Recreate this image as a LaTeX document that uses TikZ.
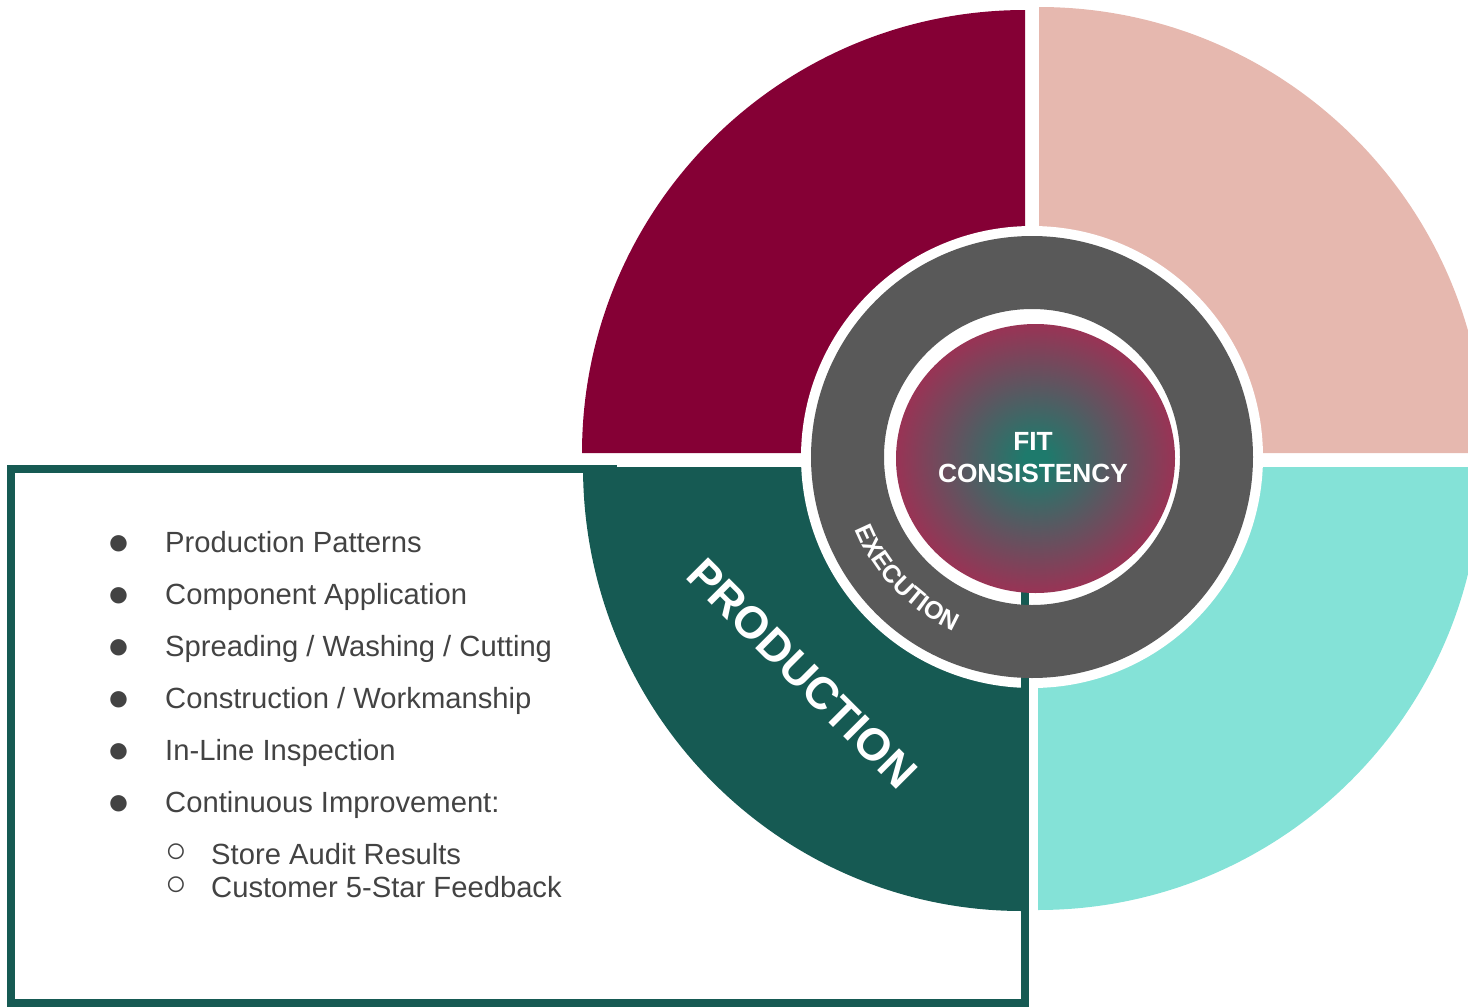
\documentclass[tikz,border=0pt]{standalone}
\usepackage{fontspec}
\usetikzlibrary{decorations.text}
\newfontfamily\arial{Liberation Sans}
\definecolor{maroonq}{HTML}{850035}
\definecolor{pinkq}{HTML}{E6B8AF}
\definecolor{turq}{HTML}{84E2D7}
\definecolor{tealq}{HTML}{165A53}
\definecolor{ringgray}{HTML}{595959}
\definecolor{txtgray}{HTML}{434343}
\definecolor{fitcenter}{HTML}{1E7A6C}
\definecolor{fitedge}{HTML}{A92A52}
\pgfdeclareradialshading{fitshade}{\pgfpoint{0bp}{0bp}}{color(0bp)=(fitcenter); color(2bp)=(fitcenter); color(28bp)=(fitedge); color(50bp)=(fitedge)}
\begin{document}
\begin{tikzpicture}[x=1pt,y=-1pt,
  bullettext/.style={anchor=base west, inner sep=0, text=txtgray, font=\arial\fontsize{29.2}{34}\selectfont},
  bulletmark/.style={anchor=center, inner sep=0, text=txtgray, font=\arial\fontsize{38}{42}\selectfont},
  subbulletmark/.style={anchor=center, inner sep=0, text=txtgray, font=\arial\fontsize{36}{40}\selectfont},
  fittext/.style={anchor=base, inner sep=0, text=white, font=\arial\bfseries\fontsize{26.3}{32}\selectfont},
  boxline/.style={draw=tealq, line width=8pt}]
\useasboundingbox (0,0) rectangle (1468,1007);
\clip (0,0) rectangle (1468,1007);
\coordinate (ctr) at (1032,457);
% quadrants
\fill[maroonq] (1025,453) -- ++(180:443) arc[start angle=180, end angle=270, radius=443] -- cycle;
\fill[pinkq] (1039,453) -- ++(270:446) arc[start angle=270, end angle=360, radius=446] -- cycle;
\fill[tealq] (1022,467) -- ++(90:444) arc[start angle=90, end angle=180, x radius=439, y radius=444] -- cycle;
\fill[turq] (1038,467) -- ++(0:443) arc[start angle=0, end angle=90, radius=443] -- cycle;
% white separation disk
\fill[white] (ctr) circle[radius=231];
% text box
\coordinate (bA) at (617,469);
\coordinate (bB) at (11,469);
\coordinate (bC) at (11,1003);
\coordinate (bD) at (1025,1003);
\coordinate (bE) at (1025,465);
\draw[boxline] (bA) -- (bB) -- (bC) -- (bD) -- (bE);
% gray ring
\fill[ringgray, even odd rule] (ctr) circle[radius=221] (ctr) circle[radius=148];
% centre disk
\shade[shading=fitshade] (1035.5,458.5) ellipse[x radius=139.5, y radius=134.5];
\node[fittext] (fit) at (1033,450) {FIT};
\node[fittext] (cons) at (1033,482) {CONSISTENCY};
% ring label
\path[decorate, decoration={text along path, text={|\arial\bfseries\fontsize{25}{29}\selectfont\color{white}|EXECUTION}, text align=center}]
  ([shift={(172:191)}]ctr) arc[start angle=172, end angle=100, radius=191];
% quadrant label
\node[rotate=-45, inner sep=0, text=white, font=\arial\bfseries\fontsize{45}{50}\selectfont] (prod) at (802,673.5) {PRODUCTION};
% bullet list
\node[bulletmark] (m1) at (119,545) {●};
\node[bulletmark] (m2) at (119,597) {●};
\node[bulletmark] (m3) at (119,649) {●};
\node[bulletmark] (m4) at (119,701) {●};
\node[bulletmark] (m5) at (119,753) {●};
\node[bulletmark] (m6) at (119,805) {●};
\node[bullettext] (t1) at (165,552) {Production Patterns};
\node[bullettext] (t2) at (165,604) {Component Application};
\node[bullettext] (t3) at (165,656) {Spreading / Washing / Cutting};
\node[bullettext] (t4) at (165,708) {Construction / Workmanship};
\node[bullettext] (t5) at (165,760) {In-Line Inspection};
\node[bullettext] (t6) at (165,812) {Continuous Improvement:};
\node[subbulletmark] (s1) at (176,853.5) {○};
\node[subbulletmark] (s2) at (176,886.5) {○};
\node[bullettext] (u1) at (211,864) {Store Audit Results};
\node[bullettext] (u2) at (211,897) {Customer 5-Star Feedback};
\end{tikzpicture}
\end{document}
